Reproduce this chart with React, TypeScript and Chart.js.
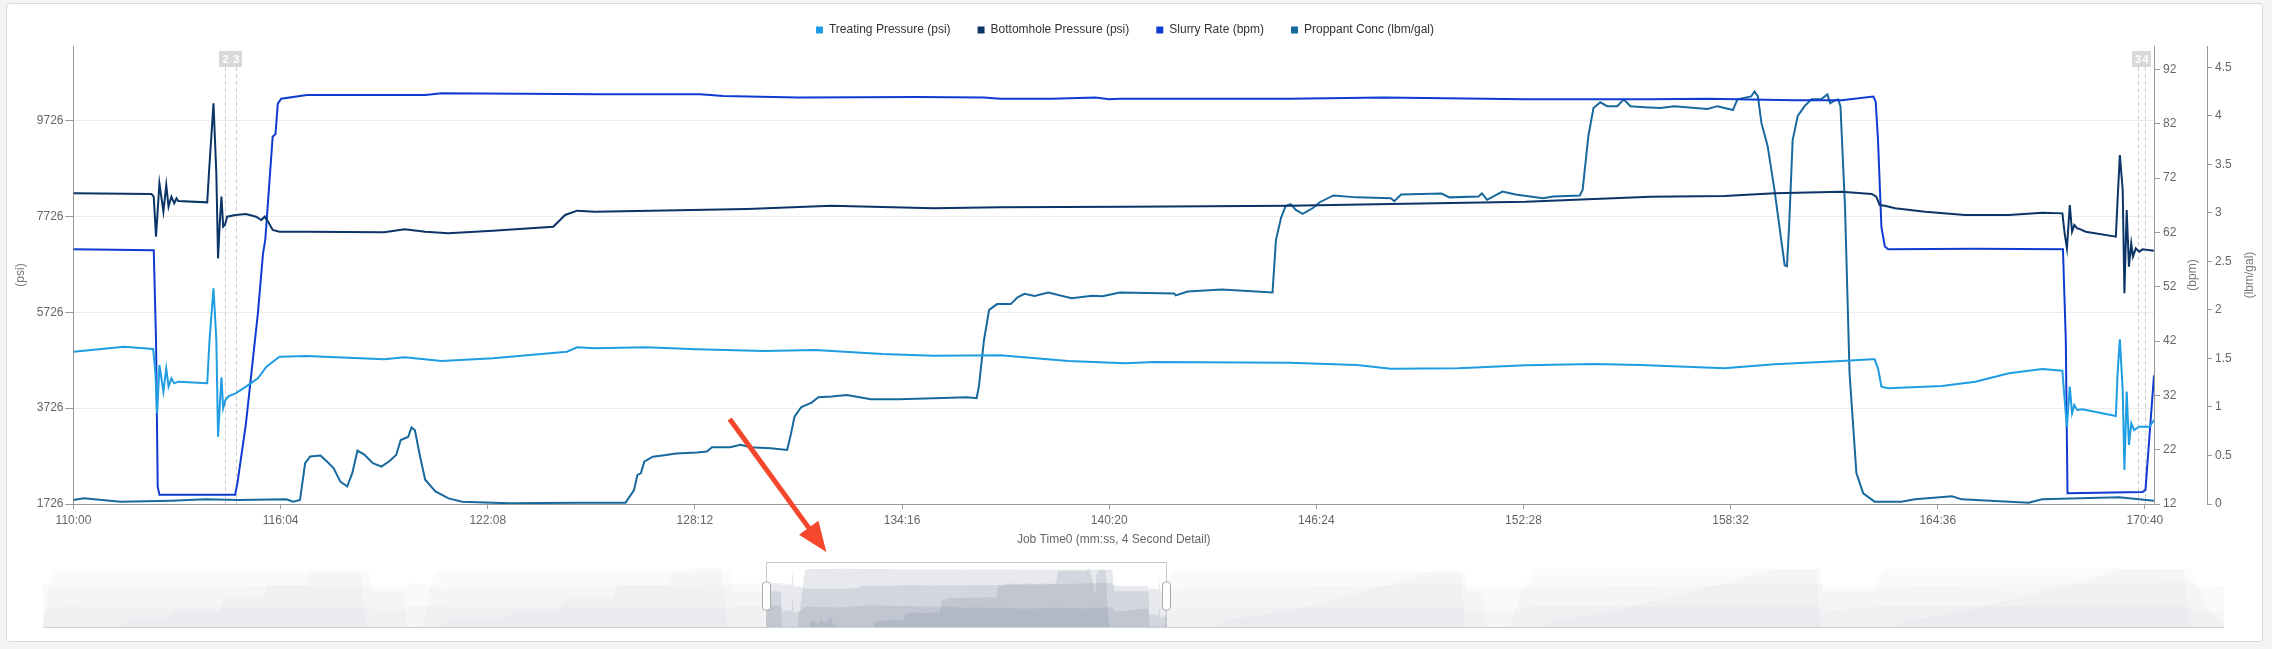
import React, { useEffect, useRef } from 'react';
import { Chart, registerables } from 'chart.js';

Chart.register(...registerables);

const FONT = "'Liberation Sans', Arial, Helvetica, sans-serif";

// ---------------- axes ----------------
const X_MIN = 6600; // 110:00 (seconds of job time)
const X_MAX = 10256;
const X_TICKS = [6600, 6964, 7328, 7692, 8056, 8420, 8784, 9148, 9512, 9876, 10240];
const PSI_MIN = 1726;
const PSI_MAX = 11285;
const PSI_TICKS = [1726, 3726, 5726, 7726, 9726];
const BPM_MIN = 12;
const BPM_MAX = 96.3;
const BPM_TICKS = [12, 22, 32, 42, 52, 62, 72, 82, 92];
const CONC_MIN = 0;
const CONC_MAX = 4.72;
const CONC_TICKS = [0, 0.5, 1, 1.5, 2, 2.5, 3, 3.5, 4, 4.5];

// ---------------- series: [time s, value] ----------------
const TREATING: [number, number][] = [
  [6600, 4905], [6689, 5010], [6740, 4961], [6744, 4453], [6747, 3618], [6751, 4627], [6758, 4071], [6763, 4557],
  [6767, 4175], [6772, 4349], [6777, 4245], [6784, 4279], [6835, 4245], [6839, 5149], [6846, 6227], [6851, 5149],
  [6854, 3131], [6857, 3757], [6860, 4370], [6863, 3723], [6867, 3897], [6873, 3980], [6885, 4036], [6903, 4175],
  [6924, 4349], [6939, 4592], [6962, 4801], [7010, 4815], [7146, 4745], [7182, 4787], [7247, 4710], [7337, 4766],
  [7467, 4905], [7485, 4996], [7517, 4975], [7606, 4996], [7695, 4954], [7814, 4919], [7903, 4940], [8022, 4857],
  [8111, 4822], [8229, 4829], [8348, 4710], [8448, 4662], [8499, 4690], [8736, 4676], [8855, 4627], [8915, 4550],
  [9033, 4557], [9152, 4620], [9271, 4648], [9354, 4627], [9501, 4557], [9589, 4641], [9707, 4710], [9760, 4745],
  [9765, 4745], [9771, 4557], [9777, 4175], [9789, 4140], [9883, 4189], [9942, 4279], [10001, 4453], [10060, 4544],
  [10095, 4509], [10099, 3897], [10103, 3340], [10108, 4175], [10112, 3618], [10116, 3792], [10121, 3688], [10130, 3702],
  [10189, 3563], [10192, 4453], [10196, 5163], [10201, 4105], [10204, 2436], [10208, 4071], [10212, 2957], [10216, 3410],
  [10221, 3270], [10230, 3340], [10248, 3340], [10256, 3479],
];

const BOTTOMHOLE: [number, number][] = [
  [6600, 8210], [6737, 8196], [6741, 8141], [6745, 7306], [6751, 8419], [6758, 7827], [6763, 8384], [6767, 7932],
  [6772, 8141], [6777, 8001], [6781, 8106], [6784, 8050], [6835, 8022], [6838, 8627], [6846, 10088], [6851, 8627],
  [6854, 6853], [6857, 7584], [6860, 8141], [6863, 7514], [6866, 7549], [6870, 7723], [6885, 7758], [6903, 7779],
  [6921, 7723], [6930, 7653], [6936, 7723], [6942, 7619], [6950, 7445], [6962, 7410], [7010, 7410], [7146, 7396],
  [7182, 7459], [7218, 7410], [7259, 7375], [7337, 7431], [7443, 7514], [7464, 7758], [7485, 7848], [7517, 7827],
  [7784, 7883], [7932, 7952], [8111, 7897], [8229, 7918], [8448, 7931], [8736, 7952], [8915, 7987], [9152, 8036],
  [9371, 8141], [9501, 8154], [9589, 8210], [9707, 8245], [9760, 8196], [9768, 8141], [9774, 7966], [9783, 7952],
  [9801, 7897], [9854, 7827], [9924, 7758], [10001, 7758], [10060, 7806], [10095, 7792], [10099, 7375], [10103, 7062],
  [10108, 7966], [10112, 7410], [10116, 7549], [10121, 7480], [10127, 7459], [10136, 7410], [10189, 7306], [10192, 8071],
  [10196, 9010], [10201, 8280], [10204, 6123], [10208, 7862], [10212, 6679], [10216, 7166], [10219, 6888], [10224, 7062],
  [10230, 6992], [10236, 7041], [10256, 7013],
];

const SLURRY: [number, number][] = [
  [6600, 58.9], [6741, 58.7], [6745, 42.2], [6748, 15.2], [6751, 13.7], [6884, 13.7], [6888, 15.8], [6903, 26.8],
  [6924, 47.1], [6933, 58.1], [6937, 60.6], [6950, 79.6], [6955, 80.1], [6959, 85.7], [6965, 86.6], [7010, 87.3],
  [7218, 87.3], [7247, 87.6], [7525, 87.4], [7701, 87.4], [7742, 87.1], [7873, 86.8], [8081, 86.9], [8200, 86.8],
  [8229, 86.6], [8319, 86.6], [8396, 86.8], [8420, 86.5], [8439, 86.6], [8736, 86.6], [8903, 86.8], [9152, 86.5],
  [9371, 86.5], [9471, 86.6], [9624, 86.3], [9707, 86.3], [9763, 87.0], [9767, 86.0], [9771, 79.0], [9777, 63.0],
  [9783, 59.4], [9789, 58.9], [9942, 59.0], [10096, 58.9], [10101, 42.2], [10104, 14.0], [10236, 14.2], [10241, 14.6],
  [10256, 35.7],
];

const PROPPANT: [number, number][] = [
  [6600, 0.041], [6618, 0.058], [6636, 0.048], [6683, 0.024], [6772, 0.034], [6832, 0.048], [6891, 0.041], [6974, 0.048],
  [6986, 0.024], [6998, 0.041], [7007, 0.42], [7016, 0.49], [7034, 0.5], [7045, 0.44], [7057, 0.37], [7069, 0.23],
  [7081, 0.18], [7090, 0.32], [7099, 0.55], [7111, 0.51], [7126, 0.42], [7141, 0.385], [7155, 0.44], [7167, 0.505],
  [7175, 0.66], [7188, 0.69], [7194, 0.79], [7200, 0.76], [7209, 0.49], [7218, 0.25], [7236, 0.13], [7259, 0.058],
  [7283, 0.024], [7366, 0.007], [7485, 0.014], [7570, 0.014], [7585, 0.144], [7591, 0.3], [7597, 0.316], [7603, 0.437],
  [7618, 0.488], [7635, 0.5], [7659, 0.52], [7695, 0.53], [7713, 0.54], [7722, 0.584], [7754, 0.584], [7772, 0.61],
  [7790, 0.584], [7825, 0.574], [7854, 0.557], [7861, 0.73], [7867, 0.9], [7879, 1.0], [7897, 1.045], [7909, 1.1],
  [7932, 1.107], [7959, 1.124], [8001, 1.08], [8051, 1.08], [8111, 1.09], [8170, 1.1], [8187, 1.09], [8191, 1.21],
  [8200, 1.69], [8209, 2.0], [8223, 2.06], [8247, 2.06], [8259, 2.13], [8271, 2.166], [8289, 2.145], [8313, 2.18],
  [8354, 2.12], [8390, 2.145], [8408, 2.14], [8439, 2.18], [8534, 2.17], [8537, 2.15], [8558, 2.19], [8618, 2.21],
  [8707, 2.18], [8713, 2.72], [8722, 2.95], [8730, 3.07], [8739, 3.09], [8748, 3.03], [8760, 2.99], [8778, 3.05],
  [8790, 3.11], [8814, 3.18], [8855, 3.16], [8915, 3.15], [8921, 3.12], [8933, 3.19], [9004, 3.2], [9018, 3.16],
  [9069, 3.17], [9075, 3.2], [9084, 3.135], [9111, 3.22], [9134, 3.19], [9182, 3.15], [9200, 3.17], [9247, 3.18],
  [9252, 3.24], [9262, 3.79], [9271, 4.08], [9283, 4.14], [9295, 4.1], [9313, 4.1], [9324, 4.17], [9336, 4.1],
  [9360, 4.09], [9389, 4.08], [9413, 4.1], [9471, 4.07], [9489, 4.1], [9516, 4.06], [9524, 4.17], [9548, 4.2],
  [9554, 4.25], [9560, 4.2], [9566, 3.93], [9577, 3.69], [9589, 3.24], [9601, 2.72], [9607, 2.46], [9611, 2.45],
  [9615, 2.89], [9621, 3.75], [9630, 4.0], [9642, 4.1], [9654, 4.17], [9671, 4.17], [9682, 4.22], [9687, 4.13],
  [9695, 4.16], [9701, 4.17], [9705, 4.1], [9713, 3.07], [9721, 1.35], [9733, 0.32], [9745, 0.11], [9765, 0.024],
  [9812, 0.024], [9836, 0.048], [9901, 0.08], [9918, 0.048], [10036, 0.014], [10059, 0.048], [10195, 0.07], [10256, 0.034],
];

// ---------------- navigator (whole job) ----------------
const NAV_MIN = 0;
const NAV_MAX = 19917;
const NAV_SLURRY_PRE: [number, number][] = [
  [0, 14], [60, 70], [120, 86], [300, 84], [2980, 84], [3010, 59], [3300, 59], [3320, 14], [3470, 14], [3530, 60],
  [3576, 84], [6280, 84], [6300, 59], [6600, 58.9],
];
const NAV_SLURRY_POST: [number, number][] = [
  [10256, 35.7], [10300, 84], [12980, 84], [13010, 59], [13150, 59], [13170, 14], [13400, 14], [13500, 60], [13643, 88],
  [16226, 88], [16260, 59], [16700, 59], [16822, 88], [19604, 88], [19700, 59], [19800, 30], [19917, 14],
];
const NAV_BHP_PRE: [number, number][] = [
  [0, 8200], [200, 7500], [3000, 7950], [3020, 7800], [3300, 7800], [3330, 8200], [3500, 8100], [3600, 7450],
  [6300, 8000], [6320, 8200], [6600, 8210],
];
const NAV_BHP_POST: [number, number][] = [
  [10256, 7013], [10400, 7500], [12980, 8100], [13000, 7800], [13400, 7700], [13600, 7600], [16226, 8200],
  [16260, 7800], [16800, 7700], [19600, 8300], [19650, 7900], [19917, 7800],
];
const NAV_TREAT_PRE: [number, number][] = [
  [0, 4300], [200, 4800], [3000, 4650], [3020, 4200], [3300, 4300], [3330, 4950], [3500, 4950], [3600, 4800],
  [6300, 4650], [6320, 4900], [6600, 4905],
];
const NAV_TREAT_POST: [number, number][] = [
  [10256, 3479], [10400, 4700], [12980, 4600], [13000, 4100], [13400, 4000], [13600, 4900], [16226, 4800],
  [16260, 4200], [16800, 4900], [19600, 4800], [19650, 4200], [19917, 4000],
];
const NAV_CONC_PRE: [number, number][] = [
  [0, 0], [700, 0], [800, 0.6], [1100, 0.5], [1200, 1.1], [1600, 1.1], [1650, 2.1], [2000, 2.1], [2050, 3.1],
  [2400, 3.1], [2450, 4.1], [2900, 4.1], [2950, 0], [3600, 0], [3700, 0.5], [4200, 0.6], [4300, 1.1], [4700, 1.1],
  [4750, 2.1], [5200, 2.1], [5250, 3.1], [5700, 3.1], [5750, 4.2], [6200, 4.3], [6250, 0], [6600, 0.041],
];
const NAV_CONC_POST: [number, number][] = [
  [10256, 0.034], [10700, 0], [10800, 0.6], [11300, 1.1], [11800, 2.1], [12300, 3.1], [12700, 4.1], [12950, 4.1],
  [12990, 0], [13700, 0], [13800, 0.5], [14300, 1.1], [14800, 2.1], [15300, 3.1], [15800, 4.2], [16200, 4.2],
  [16230, 0], [16900, 0], [17000, 0.5], [17500, 1.1], [18000, 2.1], [18500, 3.1], [19000, 4.2], [19550, 4.2],
  [19600, 0], [19917, 0],
];

// ---------------- annotations ----------------
const MARKERS: [number, string][] = [[6867, '2'], [6886, '3'], [10228, '3'], [10241, '4']];
const ARROW_FROM: [number, number] = [7753, 3500]; // [time, psi]
const ARROW_TO: [number, number] = [7923, 724];

const COLORS = {
  treating: '#1f9de2',
  bottomhole: '#0b3567',
  slurry: '#0f3bd2',
  proppant: '#17699d',
};

const toXY = (pairs: [number, number][]) => pairs.map(([x, y]) => ({ x, y }));
const fmtTime = (v: number) => {
  const m = Math.floor(v / 60);
  const s = Math.round(v - m * 60);
  return `${m}:${String(s).padStart(2, '0')}`;
};
const plain = (v: number) => String(v);
const setTicks = (list: number[]) => (axis: any) => {
  axis.ticks = list.map((value) => ({ value }));
};

const LEGEND_HEIGHT = 49;

const legendHeightPlugin = {
  id: 'legendHeight',
  beforeLayout(chart: any) {
    const lg = chart.legend;
    if (lg && !lg.__patched) {
      const orig = lg.fit;
      lg.fit = function () {
        orig.call(this);
        this.height = LEGEND_HEIGHT;
      };
      lg.__patched = true;
    }
  },
};

const markerPlugin = {
  id: 'markers',
  beforeDatasetsDraw(chart: any) {
    const { ctx, chartArea, scales } = chart;
    ctx.save();
    ctx.strokeStyle = '#cdcdcd';
    ctx.lineWidth = 1;
    ctx.setLineDash([4, 3]);
    MARKERS.forEach(([t]) => {
      const px = Math.round(scales.x.getPixelForValue(t)) + 0.5;
      ctx.beginPath();
      ctx.moveTo(px, chartArea.top + 21);
      ctx.lineTo(px, chartArea.bottom);
      ctx.stroke();
    });
    ctx.restore();
  },
  afterDatasetsDraw(chart: any) {
    const { ctx, chartArea, scales } = chart;
    ctx.save();
    ctx.fillStyle = '#d9d9d9';
    MARKERS.forEach(([t]) => {
      const px = scales.x.getPixelForValue(t);
      ctx.fillRect(Math.round(px - 6), chartArea.top + 5, 12, 16);
    });
    ctx.fillStyle = '#ffffff';
    ctx.font = `bold 11px ${FONT}`;
    ctx.textAlign = 'center';
    ctx.textBaseline = 'middle';
    MARKERS.forEach(([t, label]) => {
      const px = scales.x.getPixelForValue(t);
      ctx.fillText(label, px, chartArea.top + 13.5);
    });
    ctx.restore();
  },
};

const extrasPlugin = {
  id: 'extras',
  afterDraw(chart: any) {
    const { ctx, chartArea, scales } = chart;
    const midY = (chartArea.top + chartArea.bottom) / 2;
    ctx.save();
    ctx.fillStyle = '#777';
    ctx.font = `12px ${FONT}`;
    ctx.textAlign = 'center';
    ctx.textBaseline = 'middle';
    const titles: [any, number, string][] = [
      [scales.bpm, 39, '(bpm)'],
      [scales.conc, 43, '(lbm/gal)'],
    ];
    titles.forEach(([sc, off, text]) => {
      ctx.save();
      ctx.translate(sc.left + off, midY);
      ctx.rotate(-Math.PI / 2);
      ctx.fillText(text, 0, 0);
      ctx.restore();
    });
    // red arrow annotation
    const x1 = scales.x.getPixelForValue(ARROW_FROM[0]);
    const y1 = scales.psi.getPixelForValue(ARROW_FROM[1]);
    const x2 = scales.x.getPixelForValue(ARROW_TO[0]);
    const y2 = scales.psi.getPixelForValue(ARROW_TO[1]);
    const dx = x2 - x1;
    const dy = y2 - y1;
    const len = Math.hypot(dx, dy);
    const ux = dx / len;
    const uy = dy / len;
    const headLen = 30;
    const headHalf = 12;
    const bx = x2 - ux * headLen;
    const by = y2 - uy * headLen;
    ctx.strokeStyle = '#f4472b';
    ctx.fillStyle = '#f4472b';
    ctx.lineWidth = 5;
    ctx.lineCap = 'butt';
    ctx.beginPath();
    ctx.moveTo(x1, y1);
    ctx.lineTo(bx + ux * 2, by + uy * 2);
    ctx.stroke();
    ctx.beginPath();
    ctx.moveTo(x2, y2);
    ctx.lineTo(bx - uy * headHalf, by + ux * headHalf);
    ctx.lineTo(bx + uy * headHalf, by - ux * headHalf);
    ctx.closePath();
    ctx.fill();
    ctx.restore();
  },
};

const tickFont = { size: 12, family: FONT };

function mainConfig(): any {
  const line = (label: string, data: [number, number][], color: string, axis: string) => ({
    label,
    data: toXY(data),
    borderColor: color,
    backgroundColor: color,
    borderWidth: 2,
    pointRadius: 0,
    tension: 0,
    fill: false,
    yAxisID: axis,
  });
  return {
    type: 'line',
    data: {
      datasets: [
        line('Treating Pressure (psi)', TREATING, COLORS.treating, 'psi'),
        line('Bottomhole Pressure (psi)', BOTTOMHOLE, COLORS.bottomhole, 'psi'),
        line('Slurry Rate (bpm)', SLURRY, COLORS.slurry, 'bpm'),
        line('Proppant Conc (lbm/gal)', PROPPANT, COLORS.proppant, 'conc'),
      ],
    },
    options: {
      animation: false,
      responsive: false,
      maintainAspectRatio: false,
      layout: { padding: { left: 8, right: 30, top: 0, bottom: 3 } },
      plugins: {
        tooltip: { enabled: false },
        legend: {
          position: 'top',
          align: 'center',
          labels: {
            boxWidth: 7,
            boxHeight: 7,
            padding: 27,
            color: '#333',
            font: { size: 12, family: FONT },
            generateLabels: (chart: any) =>
              Chart.defaults.plugins.legend.labels
                .generateLabels(chart)
                .map((l: any) => ({ ...l, lineWidth: 0, strokeStyle: 'rgba(0,0,0,0)' })),
          },
        },
      },
      scales: {
        x: {
          type: 'linear',
          min: X_MIN,
          max: X_MAX,
          afterBuildTicks: setTicks(X_TICKS),
          afterFit: (s: any) => {
            s.height = 45;
          },
          ticks: { callback: (v: number) => fmtTime(v), color: '#666', font: tickFont, padding: 4, maxRotation: 0, autoSkip: false },
          grid: { drawOnChartArea: false, tickLength: 5, tickColor: '#999' },
          border: { color: '#999' },
          title: {
            display: true,
            text: 'Job Time0 (mm:ss, 4 Second Detail)',
            color: '#666',
            font: tickFont,
            padding: { top: 0, bottom: 2 },
          },
        },
        psi: {
          type: 'linear',
          position: 'left',
          min: PSI_MIN,
          max: PSI_MAX,
          afterBuildTicks: setTicks(PSI_TICKS),
          afterFit: (s: any) => {
            s.width = 65.5;
          },
          ticks: { callback: plain, color: '#666', font: tickFont, padding: 2 },
          grid: { color: '#ececec', tickColor: '#999', tickLength: 8 },
          border: { color: '#999' },
          title: { display: true, text: '(psi)', color: '#777', font: tickFont, padding: { top: 5, bottom: 0 } },
        },
        bpm: {
          type: 'linear',
          position: 'right',
          min: BPM_MIN,
          max: BPM_MAX,
          afterBuildTicks: setTicks(BPM_TICKS),
          afterFit: (s: any) => {
            s.width = 53;
          },
          ticks: { callback: plain, color: '#666', font: tickFont, padding: 3 },
          grid: { drawOnChartArea: false, tickColor: '#999', tickLength: 6 },
          border: { color: '#999' },
        },
        conc: {
          type: 'linear',
          position: 'right',
          min: CONC_MIN,
          max: CONC_MAX,
          afterBuildTicks: setTicks(CONC_TICKS),
          afterFit: (s: any) => {
            s.width = 35;
          },
          ticks: { callback: plain, color: '#666', font: tickFont, padding: 3 },
          grid: { drawOnChartArea: false, tickColor: '#999', tickLength: 5 },
          border: { color: '#999' },
        },
      },
    },
    plugins: [legendHeightPlugin, markerPlugin, extrasPlugin],
  };
}

const NAV_IN = 'rgba(95,110,135,0.15)';
const NAV_OUT = 'rgba(110,120,140,0.035)';

const navPlugin = {
  id: 'navDecor',
  afterDraw(chart: any) {
    const { ctx, chartArea, scales } = chart;
    const l = Math.round(scales.x.getPixelForValue(X_MIN)) + 0.5;
    const r = Math.round(scales.x.getPixelForValue(X_MAX)) + 0.5;
    const top = chartArea.top + 0.5;
    const bottom = chartArea.bottom - 0.5;
    ctx.save();
    ctx.strokeStyle = '#cfd3d8';
    ctx.lineWidth = 1;
    ctx.beginPath();
    ctx.moveTo(chartArea.left, bottom);
    ctx.lineTo(chartArea.right, bottom);
    ctx.stroke();
    ctx.strokeStyle = '#c8c8c8';
    ctx.beginPath();
    ctx.moveTo(l, bottom);
    ctx.lineTo(l, top);
    ctx.lineTo(r, top);
    ctx.lineTo(r, bottom);
    ctx.stroke();
    [l, r].forEach((x) => {
      const w = 8;
      const h = 28;
      const y = 20;
      const x0 = x - w / 2;
      const rad = 3;
      ctx.beginPath();
      ctx.moveTo(x0 + rad, y);
      ctx.lineTo(x0 + w - rad, y);
      ctx.quadraticCurveTo(x0 + w, y, x0 + w, y + rad);
      ctx.lineTo(x0 + w, y + h - rad);
      ctx.quadraticCurveTo(x0 + w, y + h, x0 + w - rad, y + h);
      ctx.lineTo(x0 + rad, y + h);
      ctx.quadraticCurveTo(x0, y + h, x0, y + h - rad);
      ctx.lineTo(x0, y + rad);
      ctx.quadraticCurveTo(x0, y, x0 + rad, y);
      ctx.closePath();
      ctx.fillStyle = '#ffffff';
      ctx.fill();
      ctx.strokeStyle = '#aaaaaa';
      ctx.stroke();
    });
    ctx.restore();
  },
};

function navConfig(): any {
  const series: [[number, number][], [number, number][], [number, number][], string][] = [
    [NAV_SLURRY_PRE, SLURRY, NAV_SLURRY_POST, 'bpm'],
    [NAV_BHP_PRE, BOTTOMHOLE, NAV_BHP_POST, 'psi'],
    [NAV_TREAT_PRE, TREATING, NAV_TREAT_POST, 'psi'],
    [NAV_CONC_PRE, PROPPANT, NAV_CONC_POST, 'conc'],
  ];
  const area = (data: [number, number][], color: string, axis: string) => ({
    data: toXY(data),
    yAxisID: axis,
    fill: 'start',
    backgroundColor: color,
    borderColor: 'rgba(0,0,0,0)',
    borderWidth: 0,
    pointRadius: 0,
    tension: 0,
  });
  const datasets = series.flatMap(([pre, main, post, axis]) => [
    area(pre, NAV_OUT, axis),
    area(main, NAV_IN, axis),
    area(post, NAV_OUT, axis),
  ]);
  return {
    type: 'line',
    data: { datasets },
    options: {
      animation: false,
      responsive: false,
      maintainAspectRatio: false,
      layout: { padding: 0 },
      plugins: { legend: { display: false }, tooltip: { enabled: false } },
      scales: {
        x: { type: 'linear', min: NAV_MIN, max: NAV_MAX, display: false },
        psi: { type: 'linear', min: PSI_MIN, max: PSI_MAX, display: false },
        bpm: { type: 'linear', min: BPM_MIN, max: BPM_MAX, display: false },
        conc: { type: 'linear', min: CONC_MIN, max: CONC_MAX, display: false },
      },
    },
    plugins: [navPlugin],
  };
}

export default function App() {
  const mainRef = useRef<HTMLCanvasElement>(null);
  const navRef = useRef<HTMLCanvasElement>(null);

  useEffect(() => {
    const main = new Chart(mainRef.current as HTMLCanvasElement, mainConfig());
    const nav = new Chart(navRef.current as HTMLCanvasElement, navConfig());
    return () => {
      main.destroy();
      nav.destroy();
    };
  }, []);

  return (
    <div
      style={{
        position: 'fixed',
        left: 0,
        top: 0,
        width: 2272,
        height: 649,
        background: '#f3f4f5',
        overflow: 'hidden',
        fontFamily: FONT,
      }}
    >
      <div
        style={{
          position: 'absolute',
          left: 6,
          top: 3,
          width: 2255,
          height: 637,
          background: '#ffffff',
          border: '1px solid #d6d9dd',
          borderRadius: 4,
        }}
      />
      <canvas
        ref={mainRef}
        width={2272}
        height={555}
        style={{ position: 'absolute', left: 0, top: -3, width: 2272, height: 555, display: 'block' }}
      />
      <canvas
        ref={navRef}
        width={2181}
        height={66}
        style={{ position: 'absolute', left: 43, top: 562, width: 2181, height: 66, display: 'block' }}
      />
    </div>
  );
}
